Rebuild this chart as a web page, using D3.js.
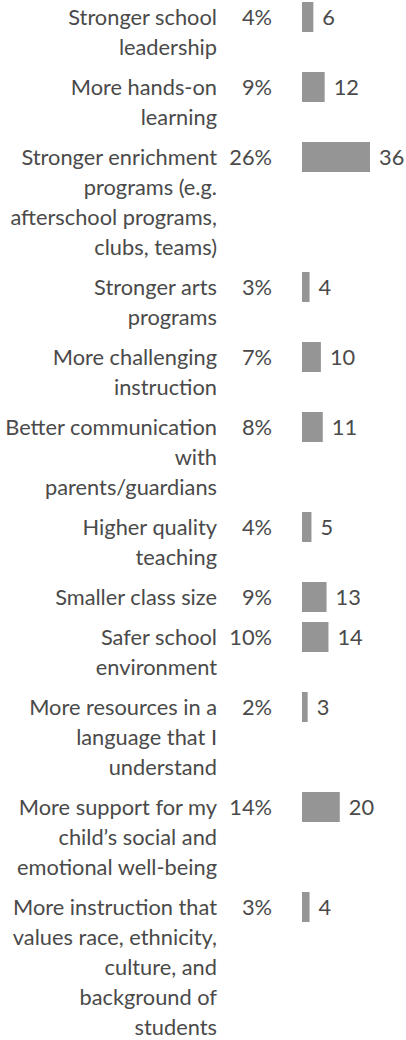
<!DOCTYPE html>
<html><head>
<meta charset="utf-8">
<script src="https://cdn.jsdelivr.net/npm/d3@7"></script>
<style>body{margin:0;background:#fff}</style>
</head>
<body>
<svg id="chart" width="406" height="1040"></svg>
<script>
// Category labels, already broken into lines as in the reference
const categories = [
  ["Stronger school", "leadership"],
  ["More hands-on", "learning"],
  ["Stronger enrichment", "programs (e.g.", "afterschool programs,", "clubs, teams)"],
  ["Stronger arts", "programs"],
  ["More challenging", "instruction"],
  ["Better communication", "with", "parents/guardians"],
  ["Higher quality", "teaching"],
  ["Smaller class size"],
  ["Safer school", "environment"],
  ["More resources in a", "language that I", "understand"],
  ["More support for my", "child\u2019s social and", "emotional well-being"],
  ["More instruction that", "values race, ethnicity,", "culture, and", "background of", "students"]
];
const counts = [6, 12, 36, 4, 10, 11, 5, 13, 14, 3, 20, 4];
const percents = ["4%", "9%", "26%", "3%", "7%", "8%", "4%", "9%", "10%", "2%", "14%", "3%"];

const W = 406, H = 1040;
const lineH = 30, rowGap = 10, barH = 30, top0 = 2;
const labelRight = 217, pctRight = 272, barLeft = 302;
const textColor = "#4a4a4a", barColor = "#959595";
const font = "Lato, sans-serif", fontSize = 21.8, fontWeight = 400;

const svg = d3.select("#chart");

// vertical positions from cumulative row heights
const rowHeights = categories.map(l => l.length * lineH + rowGap);
const tops = [top0, ...d3.cumsum(rowHeights).map(v => v + top0)].slice(0, categories.length);
const idx = d3.range(categories.length);
const y = d3.scaleOrdinal().domain(idx).range(tops);

const x = d3.scaleLinear().domain([0, 36]).range([0, 68]);

const rows = svg.selectAll("g.row").data(idx).join("g")
  .attr("class", "row")
  .attr("transform", i => `translate(0,${y(i)})`);

const styleText = sel => sel
  .attr("font-family", font)
  .attr("font-size", fontSize)
  .attr("font-weight", fontWeight)
  .attr("fill", textColor);

// category labels
rows.append("text")
  .attr("text-anchor", "end")
  .call(styleText)
  .selectAll("tspan")
  .data(i => categories[i])
  .join("tspan")
  .attr("x", labelRight)
  .attr("y", (d, j) => barH / 2 + j * lineH)
  .attr("dy", "0.35em")
  .text(d => d);

// percent labels
rows.append("text")
  .attr("text-anchor", "end")
  .attr("x", pctRight)
  .attr("y", barH / 2)
  .attr("dy", "0.35em")
  .call(styleText)
  .text(i => percents[i]);

// bars
rows.append("rect")
  .attr("x", barLeft)
  .attr("y", 0)
  .attr("width", i => x(counts[i]))
  .attr("height", barH)
  .attr("fill", barColor);

// value labels
rows.append("text")
  .attr("x", i => barLeft + x(counts[i]) + 9)
  .attr("y", barH / 2)
  .attr("dy", "0.35em")
  .call(styleText)
  .text(i => counts[i]);
</script>
</body></html>
